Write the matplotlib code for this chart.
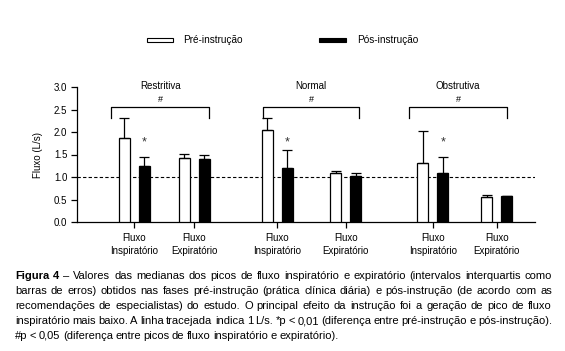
import matplotlib
matplotlib.use("Agg")
import matplotlib.pyplot as plt
from matplotlib.patches import Rectangle

# ---------------- data ----------------
groups = ['Restritiva', 'Normal', 'Obstrutiva']
tick_labels = ['Fluxo\nInspiratório', 'Fluxo\nExpiratório'] * 3
pre_values = [1.87, 1.43, 2.04, 1.08, 1.32, 0.55]
pre_upper = [2.32, 1.52, 2.32, 1.14, 2.03, 0.59]
post_values = [1.24, 1.41, 1.19, 1.02, 1.08, 0.57]
post_upper = [1.45, 1.49, 1.59, 1.09, 1.45, 0.57]
reference_line = 1.0

# ---------------- layout ----------------
W, H = 565, 351
positions = [0.955, 1.955, 3.338, 4.478, 5.928, 6.995]
brackets = [(0.567, 2.205), (3.095, 4.705), (5.538, 7.162)]
width = 0.19
off = 0.167

narrow = ['Liberation Sans Narrow', 'Liberation Sans', 'DejaVu Sans']

fig = plt.figure(figsize=(W / 100, H / 100), dpi=100)
ax = fig.add_axes([77 / W, (H - 222) / H, (535 - 77) / W, (222 - 87) / H])

pre_x = [p - off for p in positions]
post_x = [p + off for p in positions]
ax.bar(pre_x, pre_values, width, color='white', edgecolor='black', linewidth=0.9, zorder=3)
ax.bar(post_x, post_values, width, color='black', edgecolor='black', linewidth=0.9, zorder=3)

pre_err = [[0] * len(pre_values), [u - v for u, v in zip(pre_upper, pre_values)]]
post_err = [[0] * len(post_values), [u - v for u, v in zip(post_upper, post_values)]]
ax.errorbar(pre_x, pre_values, yerr=pre_err, fmt='none', ecolor='black',
            elinewidth=0.9, capsize=3.5, capthick=0.9, zorder=4)
ax.errorbar(post_x, post_values, yerr=post_err, fmt='none', ecolor='black',
            elinewidth=0.9, capsize=3.5, capthick=0.9, zorder=4)

ax.axhline(reference_line, color='black', linestyle=(0, (3, 2)), linewidth=0.8, zorder=2)

# brackets, group labels and significance marks
for g, (x0, x1) in zip(groups, brackets):
    ax.plot([x0, x0, x1, x1], [2.32, 2.55, 2.55, 2.32], color='black', linewidth=0.9, clip_on=False)
    xc = (x0 + x1) / 2
    ax.text(xc, 3.03, g, ha='center', va='center', fontsize=7, family=narrow)
    ax.text(xc, 2.73, '#', ha='center', va='center', fontsize=6.5, family=narrow)
for i in [0, 2, 4]:
    ax.text(post_x[i], 1.76, '*', ha='center', va='center', fontsize=9, family=narrow, color='#333333')

ax.set_xlim(0, (535 - 77) / 60)
ax.set_ylim(0, 3)
ax.set_yticks([0, 0.5, 1.0, 1.5, 2.0, 2.5, 3.0])
ax.set_yticklabels(['0.0', '0.5', '1.0', '1.5', '2.0', '2.5', '3.0'], family=narrow, fontsize=7)
ax.set_xticks(positions)
ax.set_xticklabels(tick_labels, family=narrow, fontsize=7, linespacing=1.4)
ax.tick_params(axis='y', length=4, width=0.9, pad=3)
ax.tick_params(axis='x', length=4, width=0.9, pad=4)
ax.set_ylabel('Fluxo (L/s)', family=narrow, fontsize=7, labelpad=8)
for s in ['top', 'right']:
    ax.spines[s].set_visible(False)
for s in ['left', 'bottom']:
    ax.spines[s].set_linewidth(0.9)

# legend
fig.patches.append(Rectangle((146.7 / W, 1 - 42 / H), 26.6 / W, 4.5 / H, transform=fig.transFigure,
                             facecolor='white', edgecolor='black', linewidth=0.8))
fig.patches.append(Rectangle((319 / W, 1 - 42.3 / H), 26.7 / W, 4.8 / H, transform=fig.transFigure,
                             facecolor='black', edgecolor='black', linewidth=0.8))
fig.text(183 / W, 1 - 40 / H, 'Pré-instrução', va='center', fontsize=7.2, family=narrow)
fig.text(356.7 / W, 1 - 40 / H, 'Pós-instrução', va='center', fontsize=7.2, family=narrow)

# caption (justified)
caption = [
    'Figura 4 – Valores das medianas dos picos de fluxo inspiratório e expiratório (intervalos interquartis como',
    'barras de erros) obtidos nas fases pré-instrução (prática clínica diária) e pós-instrução (de acordo com as',
    'recomendações de especialistas) do estudo. O principal efeito da instrução foi a geração de pico de fluxo',
    'inspiratório mais baixo. A linha tracejada indica 1 L/s. *p < 0,01 (diferença entre pré-instrução e pós-instrução).',
    '#p < 0,05 (diferença entre picos de fluxo inspiratório e expiratório).',
]
renderer = fig.canvas.get_renderer()
x_left, x_right = 15, 552
for n, line in enumerate(caption):
    y = 276 + n * 15
    words = line.split(' ')
    texts = []
    for i, w in enumerate(words):
        bold = (n == 0 and i < 2)
        t = fig.text(0, 1 - y / H, w, va='center', fontsize=8.0, family=narrow,
                     fontweight='bold' if bold else 'normal')
        texts.append(t)
    widths = [t.get_window_extent(renderer).width for t in texts]
    if n < len(caption) - 1:
        gap = (x_right - x_left - sum(widths)) / (len(words) - 1)
    else:
        gap = texts[0].get_window_extent(renderer).height * 0.25
    x = x_left
    for t, w in zip(texts, widths):
        t.set_x(x / W)
        x += w + gap

plt.savefig('out.png', dpi=100)
